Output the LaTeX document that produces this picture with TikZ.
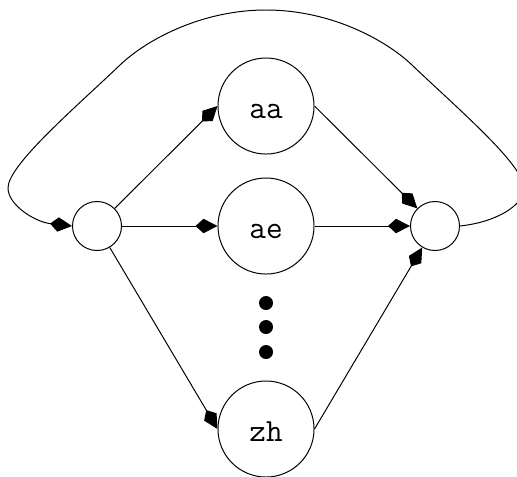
\documentclass[tikz,border=0pt]{standalone}
\usetikzlibrary{arrows.meta}

\begin{document}
\begin{tikzpicture}[
  x=0.025cm, y=-0.025cm,
  state/.style={circle, draw, line width=0.7pt, inner sep=0pt,
                minimum size=2.4cm, text height=0.62cm, text depth=0pt,
                font=\ttfamily\fontsize{23}{27}\selectfont},
  hub/.style={circle, draw, line width=0.7pt, inner sep=0pt,
              minimum size=1.225cm},
  dot/.style={circle, fill, inner sep=0pt, minimum size=0.35cm},
  arr/.style={-{Kite[length=0.55cm, width=0.36cm, inset=0.2cm]}, line width=0.7pt}
]
\useasboundingbox (0,0) rectangle (517,476);

% Entry and exit
\node[hub] (start) at ( 97,226) {};
\node[hub] (end)   at (435,226) {};

% Phone models
\node[state] (aa) at (266,106) {aa};
\node[state] (ae) at (266,226) {ae};
\node[state] (zh) at (266,429) {zh};

% Dots for the rest
\node[dot] (dotA) at (266,303) {};
\node[dot] (dotB) at (266,327) {};
\node[dot] (dotC) at (266,352) {};

% Arrows
\draw[arr] (start) -- (aa.west);
\draw[arr] (start) -- (ae);
\draw[arr] (start) -- (zh.west);
\draw[arr] (aa.east) -- (end);
\draw[arr] (ae) -- (end);
\draw[arr] (zh.east) -- (end);

% Loop back over the top
\draw[arr] (end.east) .. controls (497,222) and (524,205) .. (524,188)
  .. controls (524,165) and (457,108) .. (412,65)
  .. controls (387,41) and (332,10) .. (266,10)
  .. controls (200,10) and (145,41) .. (120,65)
  .. controls (75,108) and (8,165) .. (8,188)
  .. controls (8,205) and (35,222) .. (start.west);
\end{tikzpicture}
\end{document}
